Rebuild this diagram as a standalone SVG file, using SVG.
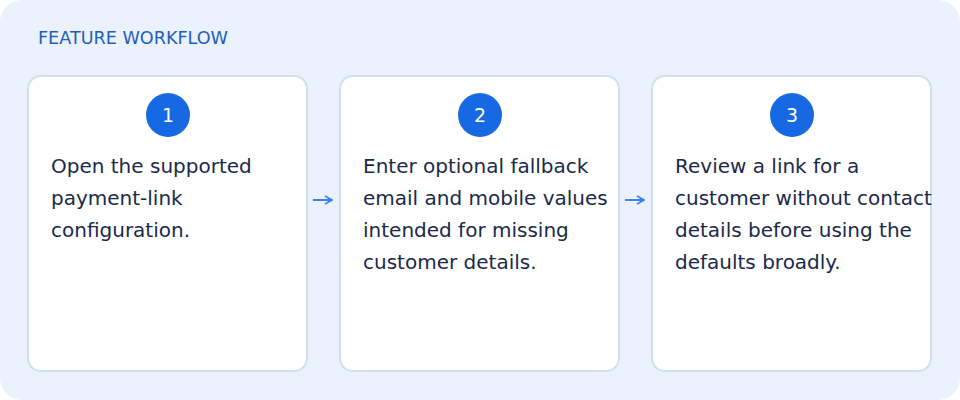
<svg xmlns="http://www.w3.org/2000/svg" width="960" height="400" viewBox="0 0 960 400">
<defs>
<style>
.card{fill:#fff;stroke:#d3dff0;stroke-width:2}
.num{fill:#1668e3}
.numt{fill:#fff;font-family:"DejaVu Sans",sans-serif;font-size:19px;text-anchor:middle}
.body{fill:#1b2a4a;font-family:"DejaVu Sans",sans-serif;font-size:20px}
.arr{stroke:#3b82f0;stroke-width:2;fill:none}
</style>
<marker id="ah" viewBox="0 0 10 10" refX="9" refY="5" markerWidth="10" markerHeight="10" markerUnits="userSpaceOnUse" orient="auto"><path d="M2 1L9 5L2 9" fill="none" stroke="#3b82f0" stroke-width="1.8"/></marker>
</defs>
<rect x="0" y="0" width="960" height="400" rx="22" fill="#ebf2fe"/>
<text x="38" y="44" fill="#1f5fb8" font-family="DejaVu Sans,sans-serif" font-size="17.6">FEATURE WORKFLOW</text>
<g id="step1">
<rect class="card" x="28" y="76" width="279" height="295" rx="13"/>
<circle class="num" cx="168" cy="115" r="22"/>
<text class="numt" x="168" y="122">1</text>
<text class="body"><tspan x="51" y="173">Open the supported</tspan><tspan x="51" y="205">payment-link</tspan><tspan x="51" y="237">configuration.</tspan></text>
</g>
<g id="step2">
<rect class="card" x="340" y="76" width="279" height="295" rx="13"/>
<circle class="num" cx="480" cy="115" r="22"/>
<text class="numt" x="480" y="122">2</text>
<text class="body"><tspan x="363" y="173">Enter optional fallback</tspan><tspan x="363" y="205">email and mobile values</tspan><tspan x="363" y="237">intended for missing</tspan><tspan x="363" y="269">customer details.</tspan></text>
</g>
<g id="step3">
<rect class="card" x="652" y="76" width="279" height="295" rx="13"/>
<circle class="num" cx="792" cy="115" r="22"/>
<text class="numt" x="792" y="122">3</text>
<text class="body"><tspan x="675" y="173">Review a link for a</tspan><tspan x="675" y="205">customer without contact</tspan><tspan x="675" y="237">details before using the</tspan><tspan x="675" y="269">defaults broadly.</tspan></text>
</g>
<g id="connectors">
<path class="arr" d="M313 200H332" marker-end="url(#ah)"/>
<path class="arr" d="M625 200H644" marker-end="url(#ah)"/>
</g>
</svg>
